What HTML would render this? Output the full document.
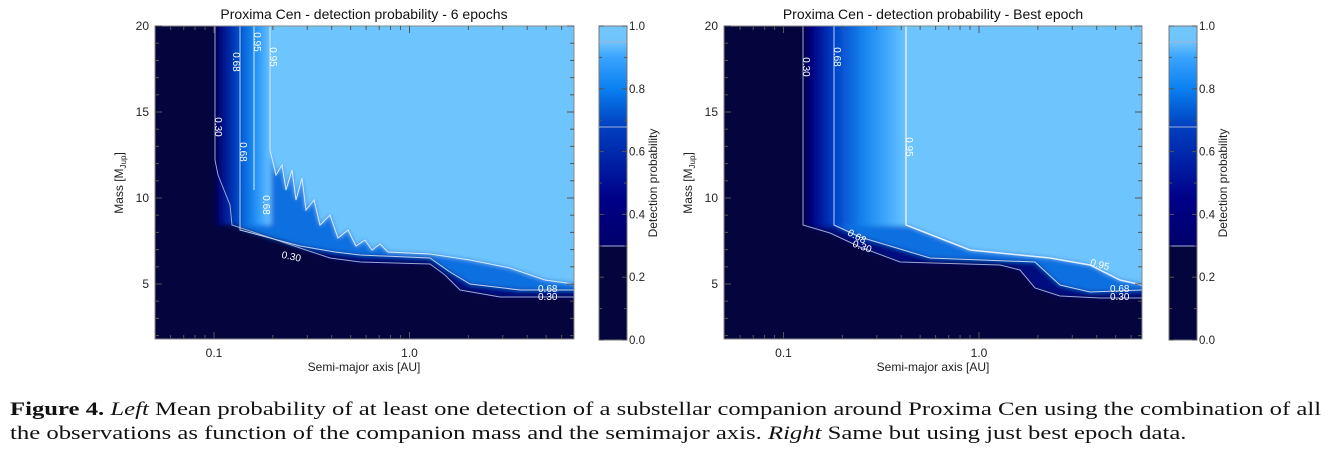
<!DOCTYPE html>
<html><head><meta charset="utf-8"><style>
body{margin:0;background:#fff;width:1331px;height:465px;overflow:hidden;}
svg{position:absolute;left:0;top:0}
.cap{position:absolute;left:10px;font-family:"Liberation Serif",serif;font-size:19px;color:#111;white-space:nowrap;transform-origin:0 0;transform:scaleX(1.3);}
</style></head><body>
<svg id="s" width="1331" height="390" viewBox="0 0 1331 390" font-family="Liberation Sans, sans-serif">
<defs>
<linearGradient id="cb" x1="0" y1="1" x2="0" y2="0">
<stop offset="0" stop-color="#05053e"/><stop offset="0.3" stop-color="#05053e"/>
<stop offset="0.3" stop-color="#00006a"/><stop offset="0.45" stop-color="#000088"/>
<stop offset="0.68" stop-color="#0040c0"/><stop offset="0.8" stop-color="#0a80f0"/>
<stop offset="0.9" stop-color="#3aa4ff"/><stop offset="0.95" stop-color="#6ec4fc"/><stop offset="1" stop-color="#72c6fc"/>
</linearGradient>
<linearGradient id="gl" x1="0" y1="0" x2="1" y2="0">
<stop offset="0" stop-color="#05053e"/><stop offset="0.05" stop-color="#000070"/><stop offset="0.3" stop-color="#0030b0"/>
<stop offset="0.6" stop-color="#0a78e8"/><stop offset="0.85" stop-color="#40a8ff"/><stop offset="1" stop-color="#6ec4fc"/>
</linearGradient>
<linearGradient id="gr" x1="0" y1="0" x2="1" y2="0">
<stop offset="0" stop-color="#05053e"/><stop offset="0.08" stop-color="#000080"/><stop offset="0.3" stop-color="#0040c8"/>
<stop offset="0.6" stop-color="#1888f0"/><stop offset="0.85" stop-color="#48aeff"/><stop offset="1" stop-color="#6ec4fc"/>
</linearGradient>
<filter id="bl"><feGaussianBlur stdDeviation="2.5"/></filter>
<clipPath id="cl"><rect x="155" y="26" width="419" height="313"/></clipPath>
<clipPath id="cr"><rect x="724" y="26" width="418" height="313"/></clipPath>
</defs>

<!-- LEFT PANEL -->
<rect x="155" y="26" width="419" height="313" fill="#05053e"/>
<g clip-path="url(#cl)">
<g filter="url(#bl)">
<path d="M215,20 L215,150 L222,180 L232,225 L265,236 L300,248 L330,258 L360,262 L430,264 L445,275 L460,290 L500,297 L580,297 L580,20Z" fill="#000a80"/>
<path d="M235,20 L235,200 L240,228 L270,238 L300,246 L335,252 L360,255 L430,258 L450,272 L470,284 L520,290 L580,290 L580,20Z" fill="#1070e0"/>
<rect x="215" y="20" width="56" height="205" fill="url(#gl)"/>
<path d="M270,20 L270,150 L276,175 L282,165 L286,190 L292,170 L296,200 L302,178 L306,210 L314,200 L320,225 L330,215 L338,238 L348,230 L356,246 L365,240 L372,250 L380,244 L388,252 L430,254 L470,260 L510,268 L545,280 L580,284 L580,20Z" fill="#6ec4fc"/>
</g>
</g>
<g fill="none" stroke="#9aa8d0" stroke-width="1" clip-path="url(#cl)">
<path d="M215,26 L215,160 L218,175 L222,185 L226,195 L230,205 L232,225 L265,236 L300,248 L330,258 L360,262 L430,264 L445,275 L460,290 L500,297 L574,297"/>
<path d="M240,26 L240,230 L270,238 L300,246 L335,252 L360,255 L430,258 L450,272 L470,284 L520,290 L574,290" stroke="#c0d0f0"/>
<path d="M254,26 L254,190 M270,26 L270,150 L276,175 L282,165 L286,190 L292,170 L296,200 L302,178 L306,210 L314,200 L320,225 L330,215 L338,238 L348,230 L356,246 L365,240 L372,250 L380,244 L388,252 L430,254 L470,260 L510,268 L545,280 L574,284" stroke="#d8ecff"/>
</g>
<g fill="#fff" font-size="10">
<text x="212" y="130" transform="rotate(90 215 130)" text-anchor="middle">0.30</text>
<text x="230" y="65" transform="rotate(90 233 65)" text-anchor="middle">0.68</text>
<text x="251" y="45" transform="rotate(90 254 45)" text-anchor="middle">0.95</text>
<text x="267" y="60" transform="rotate(90 270 60)" text-anchor="middle">0.95</text>
<text x="237" y="155" transform="rotate(90 240 155)" text-anchor="middle">0.68</text>
<text x="260" y="208" transform="rotate(90 263 208)" text-anchor="middle">0.68</text>
<text x="283" y="260" transform="rotate(12 293 250)">0.30</text>
<text x="538" y="300">0.30</text>
<text x="538" y="292">0.68</text>
</g>
<rect x="155" y="26" width="419" height="313" fill="none" stroke="#888"/>
<rect x="599" y="26" width="28" height="314" fill="url(#cb)" stroke="#777"/>
<g stroke="#a0b0d8" stroke-width="1"><line x1="599" x2="627" y1="42" y2="42"/><line x1="599" x2="627" y1="127" y2="127"/><line x1="599" x2="627" y1="246" y2="246"/></g>

<!-- RIGHT PANEL -->
<rect x="724" y="26" width="418" height="313" fill="#05053e"/>
<g clip-path="url(#cr)">
<g filter="url(#bl)">
<path d="M803,20 L803,225 L830,233 L860,247 L900,262 L1000,265 L1020,270 L1035,288 L1060,296 L1100,298 L1150,298 L1150,20Z" fill="#000a80"/>
<path d="M834,20 L834,225 L860,237 L930,258 L1035,262 L1060,285 L1090,292 L1150,290 L1150,20Z" fill="#1070e0"/>
<rect x="803" y="20" width="104" height="206" fill="url(#gr)"/>
<path d="M906,20 L906,225 L970,250 L1050,258 L1090,265 L1120,280 L1150,285 L1150,20Z" fill="#6ec4fc"/>
</g>
</g>
<g fill="none" stroke-width="1" clip-path="url(#cr)">
<path d="M803,26 L803,225 L830,233 L860,247 L900,262 L1000,265 L1020,270 L1035,288 L1060,296 L1100,298 L1142,298" stroke="#9aa8d0"/>
<path d="M834,26 L834,225 L860,237 L930,258 L1035,262 L1060,285 L1090,292 L1142,290" stroke="#c0d0f0"/>
<path d="M906,26 L906,225 L970,250 L1050,258 L1090,265 L1120,280 L1142,285" stroke="#e0f0ff" stroke-width="1.5"/>
</g>
<g fill="#fff" font-size="10">
<text x="800" y="70" transform="rotate(90 803 70)" text-anchor="middle">0.30</text>
<text x="831" y="60" transform="rotate(90 834 60)" text-anchor="middle">0.68</text>
<text x="903" y="150" transform="rotate(90 906 150)" text-anchor="middle">0.95</text>
<text x="848" y="240" transform="rotate(28 858 235)">0.68</text>
<text x="853" y="250" transform="rotate(20 863 245)">0.30</text>
<text x="1090" y="268" transform="rotate(15 1100 265)">0.95</text>
<text x="1110" y="292">0.68</text>
<text x="1110" y="300">0.30</text>
</g>
<rect x="724" y="26" width="418" height="313" fill="none" stroke="#888"/>
<rect x="1169" y="26" width="28" height="314" fill="url(#cb)" stroke="#777"/>
<g stroke="#a0b0d8" stroke-width="1"><line x1="1169" x2="1197" y1="42" y2="42"/><line x1="1169" x2="1197" y1="127" y2="127"/><line x1="1169" x2="1197" y1="246" y2="246"/></g>

<g id="ticks" stroke="#555" stroke-width="1"></g>
<g id="labels" fill="#222" font-size="12"></g>

<g fill="#111" font-size="14" text-anchor="middle">
<text x="364" y="19">Proxima Cen - detection probability - 6 epochs</text>
<text x="933" y="19">Proxima Cen - detection probability - Best epoch</text>
</g>
<g fill="#222" font-size="12" text-anchor="middle">
<text x="364" y="371">Semi-major axis [AU]</text>
<text x="933" y="371">Semi-major axis [AU]</text>
<text transform="translate(123 183) rotate(-90)">Mass [M<tspan font-size="8" dy="3">Jup</tspan><tspan dy="-3">]</tspan></text>
<text transform="translate(692 183) rotate(-90)">Mass [M<tspan font-size="8" dy="3">Jup</tspan><tspan dy="-3">]</tspan></text>
<text transform="translate(657 183) rotate(-90)">Detection probability</text>
<text transform="translate(1227 183) rotate(-90)">Detection probability</text>
</g>
</svg>
<div class="cap" style="top:399px"><b>Figure 4.</b> <i>Left</i> Mean probability of at least one detection of a substellar companion around Proxima Cen using the combination of all</div>
<div class="cap" style="top:423px">the observations as function of the companion mass and the semimajor axis. <i>Right</i> Same but using just best epoch data.</div>
<script>
(function(){
const NS="http://www.w3.org/2000/svg";
const T=document.getElementById('ticks'),L=document.getElementById('labels');
function ln(x1,y1,x2,y2){const e=document.createElementNS(NS,'line');e.setAttribute('x1',x1);e.setAttribute('y1',y1);e.setAttribute('x2',x2);e.setAttribute('y2',y2);T.appendChild(e);}
function tx(x,y,s,a,fs){const e=document.createElementNS(NS,'text');e.setAttribute('x',x);e.setAttribute('y',y);e.setAttribute('text-anchor',a);if(fs)e.setAttribute('font-size',fs);e.textContent=s;L.appendChild(e);}
const panels=[{l:155,r:574,x01:214,cb:599},{l:724,r:1142,x01:783.5,cb:1169}];
const pt=26,pb=339;
for(const p of panels){
  const X=a=>p.x01+195.5*Math.log10(a/0.1);
  const vals=[0.06,0.07,0.08,0.09,0.1,0.2,0.3,0.4,0.5,0.6,0.7,0.8,0.9,1,2,3,4,5,6,7];
  for(const v of vals){const x=X(v);if(x<p.l||x>p.r)continue;const maj=(v===0.1||v===1);const len=maj?7:4;
    ln(x,pb,x,pb-len);ln(x,pt,x,pt+len);}
  tx(X(0.1),357,'0.1','middle');tx(X(1),357,'1.0','middle');
  const Y=m=>26+(20-m)*17.2;
  for(let m=2;m<=20;m++){const y=Y(m);const maj=m%5===0;const len=maj?7:4;ln(p.l,y,p.l+len,y);ln(p.r,y,p.r-len,y);
    if(maj)tx(p.l-6,y+4,String(m),'end');}
  for(let i=0;i<=10;i++){const y=340-i*31.4;const len=i%2===0?5:3;ln(p.cb+28,y,p.cb+28-len,y);ln(p.cb,y,p.cb+len,y);
    if(i%2===0)tx(p.cb+30,y+4,(i/10).toFixed(1),'start',11.5);}
}
})();
</script>
</body></html>
